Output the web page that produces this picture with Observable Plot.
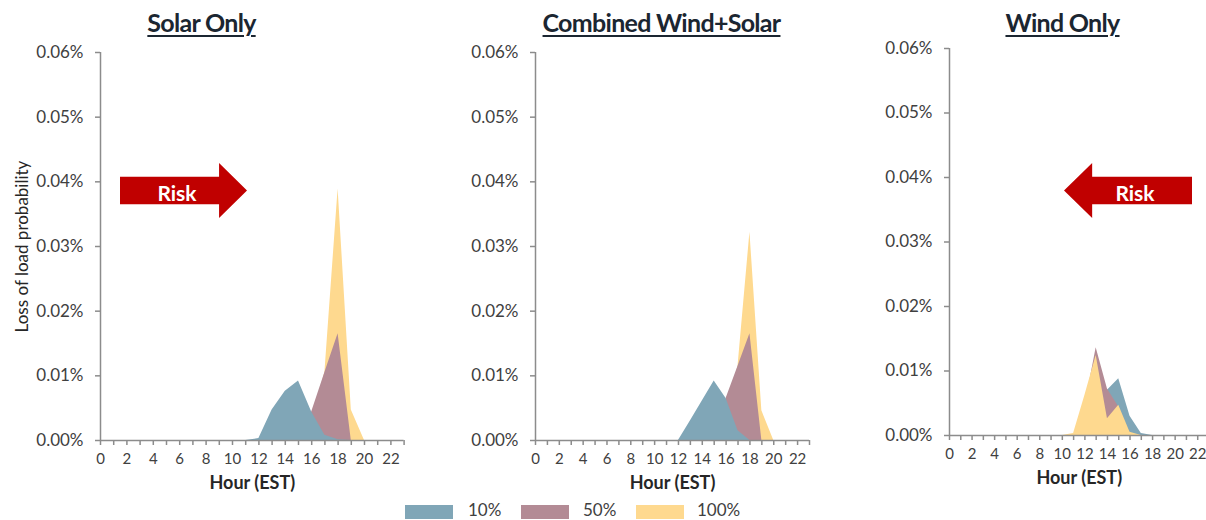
<!DOCTYPE html>
<html><head><meta charset="utf-8">
<script src="https://cdn.jsdelivr.net/npm/d3@7"></script>
<script src="https://cdn.jsdelivr.net/npm/@observablehq/plot@0.6"></script>
<style>
html,body{margin:0;padding:0;background:#fff;overflow:hidden;}
#wrap{position:relative;width:1206px;height:520px;overflow:hidden;font-family:Lato,"Noto Sans",sans-serif;}
.panel{position:absolute;top:0;}
.title{position:absolute;top:10px;font-weight:700;font-size:25px;line-height:1;text-decoration:underline;text-decoration-thickness:2px;text-underline-offset:3px;color:#1b2631;white-space:nowrap;transform:translateX(-50%);letter-spacing:-0.7px;}
.arrow{position:absolute;background:#C00000;}
.risk{position:absolute;color:#fff;font-weight:700;font-size:21px;line-height:1;transform:translate(-50%,-50%);}
.sw{position:absolute;width:48px;height:14px;top:505px;}
.lt{position:absolute;top:501px;font-size:17px;line-height:1;color:#404040;}
</style>
</head><body>
<div id="wrap"></div>
<script>
// ---- data (values in %) ----
const hours = d3.range(0, 24);
const seriesNames = ["10%", "50%", "100%"];
const seriesColors = ["#80A6B7", "#B38B95", "#FED98F"];
const yTicks = [0, 0.01, 0.02, 0.03, 0.04, 0.05, 0.06];
const panelTitles = ["Solar Only", "Combined Wind+Solar", "Wind Only"];

//                 0  1  2  3  4  5  6  7  8  9 10  11      12      13      14      15      16      17      18      19      20 21 22 23
const solar10  = [0, 0, 0, 0, 0, 0, 0, 0, 0, 0, 0, 0,      0.0003, 0.0047, 0.0076, 0.0092, 0.0044, 0.0008, 0.0001, 0,      0, 0, 0, 0];
const solar50  = [0, 0, 0, 0, 0, 0, 0, 0, 0, 0, 0, 0,      0,      0,      0,      0,      0.0044, 0.0105, 0.0165, 0,      0, 0, 0, 0];
const solar100 = [0, 0, 0, 0, 0, 0, 0, 0, 0, 0, 0, 0,      0,      0,      0,      0.0010, 0.0030, 0.0105, 0.0389, 0.0047, 0, 0, 0, 0];

const comb10   = [0, 0, 0, 0, 0, 0, 0, 0, 0, 0, 0, 0,      0,      0.0030, 0.0061, 0.0092, 0.0065, 0.0015, 0,      0,      0, 0, 0, 0];
const comb50   = [0, 0, 0, 0, 0, 0, 0, 0, 0, 0, 0, 0,      0,      0,      0,      0,      0.0065, 0.0115, 0.0165, 0,      0, 0, 0, 0];
const comb100  = [0, 0, 0, 0, 0, 0, 0, 0, 0, 0, 0, 0,      0,      0,      0,      0.0010, 0.0040, 0.0115, 0.0322, 0.0046, 0, 0, 0, 0];

const wind10   = [0, 0, 0, 0, 0, 0, 0, 0, 0, 0, 0, 0,      0,      0.0030, 0.0070, 0.0088, 0.0030, 0.0003, 0,      0,      0, 0, 0, 0];
const wind50   = [0, 0, 0, 0, 0, 0, 0, 0, 0, 0, 0, 0,      0.0045, 0.0136, 0.0072, 0.0044, 0.0003, 0,      0,      0,      0, 0, 0, 0];
const wind100  = [0, 0, 0, 0, 0, 0, 0, 0, 0, 0, 0, 0.0003, 0.0062, 0.0124, 0.0026, 0.0047, 0.0005, 0,      0,      0,      0, 0, 0, 0];

const wrap = document.getElementById("wrap");

function panel(opts) {
  const {left, width, mt, series, order, ylabel} = opts;
  const height = 500;
  const marks = order.map(i => Plot.areaY(hours, {
    x: d => d, y: d => series[i][d], fill: seriesColors[i], fillOpacity: 1
  }));
  marks.push(
    Plot.ruleY([0], {stroke: "#8c8c8c", strokeWidth: 1.5}),
    Plot.ruleX([0], {stroke: "#8c8c8c", strokeWidth: 1.5}),
    Plot.axisY({ticks: yTicks, tickFormat: d => d.toFixed(2) + "%", tickSize: 5, tickPadding: 12,
      fontSize: 17, stroke: "#8c8c8c", strokeWidth: 1.5, fill: "#404040", label: null}),
    Plot.axisX({ticks: hours, tickFormat: d => d % 2 === 0 ? String(d) : "", tickSize: 5, tickPadding: 8,
      fontSize: 15, stroke: "#8c8c8c", strokeWidth: 1.5, fill: "#404040", label: null}),
    Plot.text(["Hour (EST)"], {frameAnchor: "bottom", dy: 48, fontSize: 18, fontWeight: 700, fill: "#262626", letterSpacing: "-0.3px"})
  );
  if (ylabel) marks.push(Plot.text([ylabel], {frameAnchor: "left", textAnchor: "middle", rotate: -90, dx: -78, fontSize: 17, fill: "#262626", letterSpacing: "-0.3px"}));
  const svg = Plot.plot({
    width, height, marginLeft: 100, marginRight: opts.mr, marginTop: mt, marginBottom: height - opts.bottom,
    style: {fontFamily: "Lato, 'Noto Sans', sans-serif", background: "transparent", overflow: "visible"},
    x: {domain: [0, 23], axis: null},
    y: {domain: [0, 0.06], axis: null},
    marks
  });
  svg.classList.add("panel");
  svg.style.left = left + "px";
  wrap.appendChild(svg);
}

// Solar: yellow back, purple, blue front
panel({left: 0, width: 410, mr: 6.4, mt: 52, bottom: 440, series: [solar10, solar50, solar100], order: [2, 1, 0], ylabel: "Loss of load probability"});
// Combined
panel({left: 435, width: 380, mr: 6, mt: 52, bottom: 440, series: [comb10, comb50, comb100], order: [2, 1, 0]});
// Wind: blue back, purple, yellow front
panel({left: 849, width: 359.5, mr: 0, mt: 48, bottom: 435, series: [wind10, wind50, wind100], order: [0, 1, 2]});

// titles
[[201.5, 0], [661.5, 1], [1062.5, 2]].forEach(([x, i]) => {
  const t = document.createElement("div");
  t.className = "title"; t.style.left = x + "px"; t.textContent = panelTitles[i];
  wrap.appendChild(t);
});

// Risk arrows (annotations)
function arrow(x, y, w, h, dir, tx) {
  const a = document.createElement("div");
  a.className = "arrow";
  Object.assign(a.style, {left: x + "px", top: y + "px", width: w + "px", height: h + "px"});
  a.style.clipPath = dir === "right"
    ? "polygon(0 25%, 78% 25%, 78% 0, 100% 50%, 78% 100%, 78% 75%, 0 75%)"
    : "polygon(0 50%, 22% 0, 22% 25%, 100% 25%, 100% 75%, 22% 75%, 22% 100%)";
  wrap.appendChild(a);
  const t = document.createElement("div");
  t.className = "risk"; t.textContent = "Risk";
  t.style.left = tx + "px"; t.style.top = (y + h / 2 + 1) + "px";
  wrap.appendChild(t);
}
arrow(120, 163, 127, 55, "right", 177);
arrow(1064, 163, 128, 55, "left", 1135);

// legend
const legX = [405, 521, 636];
const legTx = [468, 583, 697];
seriesNames.forEach((n, i) => {
  const s = document.createElement("div");
  s.className = "sw"; s.style.left = legX[i] + "px"; s.style.background = seriesColors[i];
  wrap.appendChild(s);
  const t = document.createElement("div");
  t.className = "lt"; t.style.left = legTx[i] + "px"; t.textContent = n;
  wrap.appendChild(t);
});
</script>
</body></html>
